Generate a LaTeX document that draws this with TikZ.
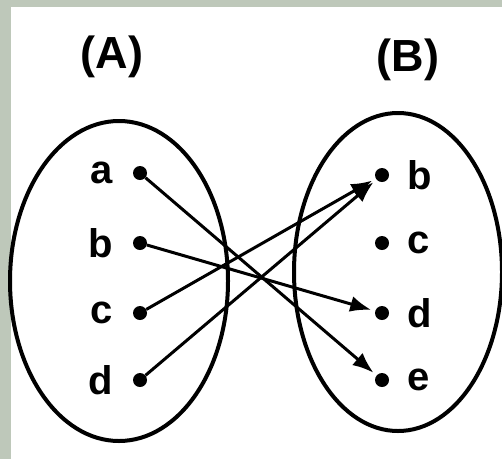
\documentclass[tikz,border=0pt]{standalone}
\usepackage{fontspec}
\setmainfont{Liberation Sans}
\usetikzlibrary{positioning,arrows.meta}
\definecolor{edgebg}{RGB}{190,200,186}

\begin{document}
\begin{tikzpicture}[x=1pt,y=-1pt,
      dot/.style={circle,fill=black,minimum size=14pt,inner sep=0pt},
      lbl/.style={inner sep=0pt,font=\bfseries\fontsize{40}{48}\selectfont},
      setname/.style={inner sep=0pt,font=\bfseries\fontsize{45}{54}\selectfont},
      setline/.style={line width=4pt},
      arr/.style={-{Latex[length=21pt,width=16pt]},line width=3pt,shorten >=4pt}]
    % background strip and white sheet
    \fill[edgebg] (0,0) rectangle (502,459);
    \fill[white] (11,7) rectangle (502,459);
    \useasboundingbox (0,0) rectangle (502,459);
    % the two sets
    \draw[setline] (119,281) ellipse [x radius=109, y radius=160];
    \draw[setline] (398,272) ellipse [x radius=104, y radius=159];
    \node[setname] (A) at (112,57) {(A)};
    \node[setname] (B) at (408,60) {(B)};
    % elements of A
    \node[dot] (a1) at (140,173) {};
    \node[dot] (b1) at (140,243) {};
    \node[dot] (c1) at (140,313) {};
    \node[dot] (d1) at (140,380) {};
    \foreach \n/\t in {a1/a,b1/b,c1/c,d1/d}
      \node[lbl,left=20pt of \n] (l\n) {\t};
    % elements of B
    \node[dot] (b2) at (382,175) {};
    \node[dot] (c2) at (382,243) {};
    \node[dot] (d2) at (382,313) {};
    \node[dot] (e2) at (382,380) {};
    \foreach \n/\t in {b2/b,c2/c,d2/d,e2/e}
      \node[lbl,right=18pt of \n] (l\n) {\t};
    % the mapping
    \foreach \s/\e in {a1/e2,b1/d2,c1/b2,d1/b2}
      \draw[arr] (\s) -- (\e);
  \end{tikzpicture}
\end{document}
